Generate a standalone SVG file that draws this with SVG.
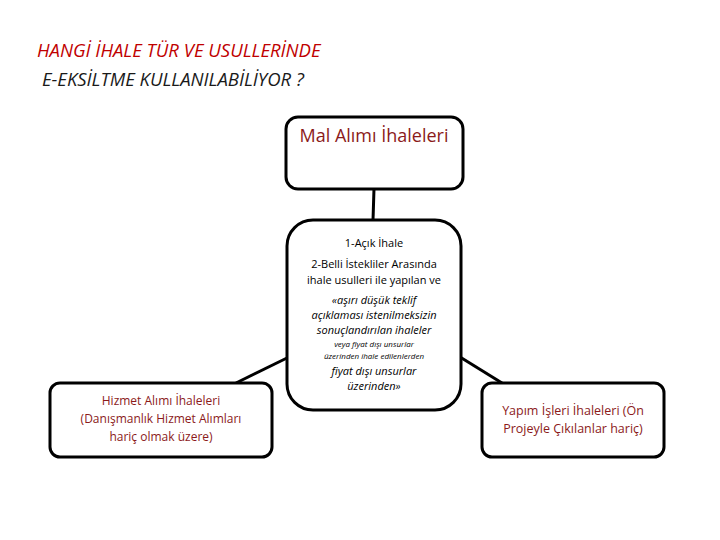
<svg xmlns="http://www.w3.org/2000/svg" width="720" height="540" viewBox="0 0 720 540">
<style>
.box{fill:#fff;stroke:#000;stroke-width:3}
.ln{stroke:#000;stroke-width:3;fill:none}
.red{fill:#8B1A1A;font-family:"Open Sans","DejaVu Sans",sans-serif;text-anchor:middle}
.blk{fill:#000;font-family:"Open Sans","DejaVu Sans",sans-serif;text-anchor:middle}
.it{font-style:italic}
</style>
<rect width="720" height="540" fill="#fff"/>
<g id="title" font-family="'Open Sans','DejaVu Sans',sans-serif" font-size="18.5" font-style="italic" fill="#C00000">
<text x="37" y="57">HANGİ İHALE TÜR VE USULLERİNDE</text>
<text x="42" y="86" fill="#1a1a1a">E-EKSİLTME KULLANILABİLİYOR ?</text>
</g>
<g id="connectors">
<line class="ln" x1="374" y1="189" x2="373" y2="220"/>
<line class="ln" x1="236" y1="383" x2="289" y2="357"/>
<line class="ln" x1="460" y1="357" x2="502" y2="383"/>
</g>
<g id="mal">
<rect class="box" x="286" y="117" width="177" height="72" rx="12"/>
<text class="red" x="374" y="142" font-size="18">Mal Alımı İhaleleri</text>
</g>
<g id="center">
<rect class="box" x="287" y="220" width="174" height="190" rx="26"/>
<text class="blk" x="374" y="247" font-size="11">1-Açık İhale</text>
<text class="blk" x="374" y="268" font-size="11">2-Belli İstekliler Arasında</text>
<text class="blk" x="374" y="284" font-size="11">ihale usulleri ile yapılan ve</text>
<g class="it">
<text class="blk" x="374" y="304" font-size="11">«aşırı düşük teklif</text>
<text class="blk" x="374" y="319" font-size="11">açıklaması istenilmeksizin</text>
<text class="blk" x="374" y="334" font-size="11">sonuçlandırılan ihaleler</text>
<text class="blk" x="374" y="347" font-size="8">veya fiyat dışı unsurlar</text>
<text class="blk" x="374" y="359" font-size="8">üzerinden  ihale edilenlerden</text>
<text class="blk" x="374" y="375" font-size="11">fiyat dışı unsurlar</text>
<text class="blk" x="374" y="390" font-size="11">üzerinden»</text>
</g>
</g>
<g id="hizmet">
<rect class="box" x="50" y="383" width="222" height="74" rx="10"/>
<text class="red" x="161" y="405" font-size="12">Hizmet Alımı İhaleleri</text>
<text class="red" x="161" y="423" font-size="12">(Danışmanlık Hizmet Alımları</text>
<text class="red" x="161" y="441" font-size="12">hariç olmak üzere)</text>
</g>
<g id="yapim">
<rect class="box" x="482" y="383" width="182" height="74" rx="10"/>
<text class="red" x="573" y="415" font-size="12.5">Yapım İşleri İhaleleri (Ön</text>
<text class="red" x="573" y="433" font-size="12.5">Projeyle Çıkılanlar hariç)</text>
</g>
</svg>
